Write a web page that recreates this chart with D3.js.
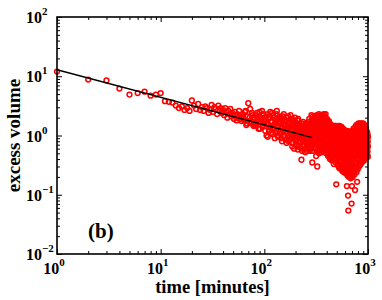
<!DOCTYPE html>
<html>
<head>
<meta charset="utf-8">
<script src="https://cdn.jsdelivr.net/npm/d3@7"></script>
<style>
  body { margin: 0; background: #fff; }
  text { font-family: "Liberation Serif", "Times New Roman", serif; font-weight: bold; fill: #000; }
</style>
</head>
<body>
<div class="chart"></div>
<script>
// excess volume, minutes 1..60 (one per minute)
const earlyVol = [
  12.0, 8.8, 8.5, 6.2, 4.9, 5.2, 5.5, 4.7, 4.9, 5.2,
  3.8, 3.7, 3.6, 3.2, 2.9, 3.1, 2.7, 2.9, 2.6, 3.9,
  3.2, 2.8, 3.4, 2.7, 3.0, 2.6, 3.1, 2.9, 2.4, 2.7,
  3.3, 2.5, 3.0, 2.8, 2.3, 3.2, 2.6, 2.9, 2.4, 2.7,
  2.2, 2.9, 2.5, 2.0, 2.6, 2.3, 2.8, 2.1, 2.4, 2.2,
  1.9, 2.5, 2.2, 1.8, 2.3, 2.0, 2.6, 1.9, 2.1, 1.75
];
// minutes 62..300, even minutes
const midVol = [
  2.3, 1.8, 2.6, 1.6, 3.5, 2.0, 1.7, 2.4, 1.9, 1.5,
  2.2, 1.6, 1.9, 1.3, 2.5, 1.7, 2.0, 1.4, 2.3, 1.8,
  1.2, 2.1, 1.6, 0.95, 1.9, 1.4, 2.5, 1.1, 1.7, 1.3,
  2.2, 1.5, 0.9, 1.8, 1.2, 2.6, 1.4, 1.0, 1.9, 1.6,
  1.1, 2.0, 1.4, 0.8, 1.7, 1.2, 2.3, 0.95, 1.5, 1.3,
  1.8, 0.75, 1.3, 1.0, 2.1, 1.4, 0.85, 1.6, 1.1, 1.9,
  0.9, 1.5, 0.65, 1.2, 1.8, 1.0, 0.6, 1.4, 2.0, 0.8,
  1.3, 0.7, 1.6, 1.1, 0.58, 1.9, 0.9, 1.2, 0.75, 1.5,
  1.0, 0.62, 1.4, 0.39, 1.6, 0.55, 1.1, 0.78, 1.3, 0.95,
  0.68, 1.5, 1.05, 0.52, 1.25, 0.88, 1.6, 0.72, 1.15, 0.8,
  1.3, 0.6, 1.0, 1.7, 0.78, 1.2, 0.55, 0.92, 1.45, 0.7,
  1.1, 0.66, 1.8, 0.85, 0.35, 1.3, 2.1, 0.75, 1.0, 1.6
];
// minutes 61..299, odd minutes
const midVolOdd = [
  2.0, 1.9, 2.5, 1.5, 2.1, 1.7, 2.8, 1.6, 2.2, 1.45,
  2.0, 1.5, 2.4, 1.7, 2.1, 1.3, 1.9, 2.6, 1.5, 1.6,
  2.0, 1.8, 1.0, 2.3, 1.5, 1.2, 2.0, 1.35, 1.75, 2.4,
  1.05, 1.3, 2.0, 1.6, 1.1, 2.3, 1.5, 0.95, 1.7, 1.25,
  2.1, 1.6, 0.9, 1.9, 1.3, 2.1, 1.0, 1.5, 1.8, 1.15,
  0.85, 1.4, 2.0, 1.1, 1.6, 0.8, 1.25, 1.7, 0.95, 2.2,
  1.3, 1.6, 1.1, 1.9, 0.75, 1.3, 1.5, 0.9, 1.7, 1.15,
  1.25, 0.85, 1.4, 1.0, 1.8, 1.25, 0.65, 1.1, 1.55, 0.95,
  1.2, 1.5, 0.8, 1.2, 0.6, 1.05, 1.45, 0.9, 1.7, 0.7,
  1.15, 1.2, 0.85, 0.6, 1.4, 1.0, 0.75, 1.3, 0.55, 1.1,
  0.95, 0.8, 1.5, 0.65, 1.15, 1.9, 0.9, 1.35, 0.6, 1.05,
  1.6, 0.95, 2.2, 0.7, 1.25, 0.55, 1.5, 0.9, 1.9, 1.15
];
// minutes 302..1000, even minutes
const lateVol = [
  1.4, 0.8, 2.0, 1.1, 0.6, 1.7, 0.95, 0.45, 1.25, 2.2,
  0.7, 0.30, 1.5, 0.9, 1.9, 0.55, 1.2, 2.3, 0.8, 1.05,
  1.6, 0.65, 1.3, 2.1, 0.85, 1.0, 0.52, 1.8, 1.15, 0.75,
  2.2, 1.4, 0.6, 1.0, 1.9, 0.8, 2.3, 1.2, 0.55, 1.6,
  0.9, 2.0, 1.3, 0.7, 2.3, 1.1, 0.5, 1.7, 0.85, 1.45,
  1.9, 0.6, 1.2, 0.8, 1.6, 0.45, 1.0, 1.35, 0.7, 1.75,
  0.55, 1.3, 0.9, 1.6, 0.4, 1.05, 0.7, 1.45, 0.85, 0.5,
  1.2, 0.65, 1.5, 0.38, 0.95, 0.75, 1.35, 0.5, 1.1, 0.8,
  0.6, 1.4, 0.85, 0.33, 1.1, 0.7, 1.3, 0.45, 0.95, 1.45,
  0.75, 1.2, 0.4, 0.9, 1.45, 0.55, 0.15, 1.05, 0.65, 1.3,
  0.5, 0.95, 1.4, 0.32, 0.7, 1.15, 0.6, 1.45, 0.85, 0.3,
  1.1, 0.45, 0.8, 1.4, 0.28, 0.65, 1.25, 0.9, 0.38, 1.0,
  0.7, 1.3, 0.35, 0.55, 1.05, 0.27, 0.85, 1.4, 0.6, 0.42,
  1.2, 0.5, 0.75, 0.25, 0.95, 1.3, 0.4, 0.65, 1.1, 0.3,
  0.55, 0.85, 0.24, 1.25, 0.45, 0.7, 1.0, 0.3, 0.6, 1.15,
  0.38, 0.9, 0.6, 1.2, 0.23, 0.5, 0.8, 1.05, 0.33, 0.7,
  0.95, 0.45, 0.14, 0.65, 1.15, 0.28, 0.8, 0.21, 1.0, 0.55,
  0.097, 0.7, 0.054, 0.4, 1.1, 0.6, 0.25, 0.9, 0.2, 0.5,
  0.75, 0.3, 1.05, 0.45, 0.85, 0.22, 0.6, 1.15, 0.35, 0.19,
  0.55, 0.95, 0.26, 0.7, 0.4, 0.21, 0.071, 0.8, 1.1, 0.14,
  0.32, 0.65, 1.2, 0.45, 0.2, 0.9, 0.55, 0.28, 1.0, 0.38,
  0.75, 1.3, 0.24, 0.6, 0.42, 1.05, 0.3, 0.85, 0.5, 0.22,
  1.2, 0.35, 0.7, 0.95, 0.12, 0.55, 1.4, 0.26, 0.8, 0.45,
  0.62, 0.28, 1.1, 0.4, 1.5, 0.75, 0.24, 0.9, 0.5, 1.25,
  0.34, 0.85, 0.165, 0.6, 1.3, 0.45, 1.0, 0.27, 0.7, 1.55,
  0.5, 0.95, 0.32, 1.2, 0.65, 1.6, 0.4, 0.8, 1.05, 0.3,
  1.4, 0.55, 0.75, 0.35, 1.1, 0.9, 0.45, 1.6, 0.6, 0.32,
  0.85, 1.25, 0.4, 0.7, 1.5, 0.33, 0.95, 0.55, 1.15, 0.65,
  0.36, 1.0, 0.6, 1.6, 0.45, 0.8, 1.3, 0.38, 0.7, 1.1,
  0.5, 1.45, 0.85, 0.36, 0.65, 1.2, 0.42, 0.95, 1.6, 0.58,
  0.75, 0.4, 1.05, 1.35, 0.55, 0.9, 0.38, 1.5, 0.68, 1.0,
  0.45, 1.25, 0.8, 0.6, 1.5, 0.4, 0.95, 0.7, 1.15, 0.52,
  1.35, 0.62, 0.42, 0.88, 1.1, 0.5, 0.75, 1.3, 0.45, 0.95,
  0.58, 1.2, 0.8, 0.44, 1.0, 0.68, 0.5, 1.15, 0.85, 0.62,
  0.9, 0.48, 1.1, 0.7, 0.55, 1.0, 0.8, 0.44, 0.65, 0.95
];
// minutes 301..699, odd minutes
const lateVolOdd = [
  1.0, 1.8, 0.7, 1.3, 2.1, 0.85, 1.5, 0.6, 1.15, 1.9,
  1.2, 0.55, 2.0, 0.9, 1.4, 0.75, 1.7, 1.05, 0.5, 1.35,
  0.95, 1.9, 0.7, 1.45, 1.1, 2.2, 0.6, 1.25, 0.85, 1.6,
  1.3, 0.75, 1.7, 1.0, 2.0, 0.65, 1.5, 0.9, 2.1, 1.15,
  1.6, 0.75, 2.1, 1.05, 1.4, 0.6, 1.85, 0.95, 1.25, 0.7,
  1.1, 1.5, 0.65, 1.3, 0.5, 1.7, 0.85, 1.0, 0.55, 1.4,
  0.8, 1.2, 0.45, 1.5, 0.95, 0.6, 1.3, 0.75, 1.1, 0.42,
  0.9, 1.4, 0.55, 1.0, 0.42, 1.25, 0.7, 0.85, 1.45, 0.6,
  1.0, 0.5, 1.25, 0.75, 0.4, 1.35, 0.9, 0.55, 1.15, 0.8,
  0.45, 1.0, 0.7, 1.3, 0.35, 0.85, 1.2, 0.6, 0.95, 0.5,
  1.2, 0.7, 0.4, 1.0, 1.35, 0.55, 0.85, 0.33, 1.1, 0.65,
  0.8, 1.3, 0.5, 0.35, 1.0, 0.7, 1.45, 0.42, 0.6, 1.15,
  0.9, 0.45, 1.2, 0.3, 0.75, 1.0, 0.55, 1.35, 0.38, 0.65,
  0.85, 0.3, 1.1, 0.6, 0.45, 1.25, 0.7, 0.27, 0.95, 0.5,
  0.75, 1.05, 0.35, 0.6, 1.2, 0.28, 0.85, 0.48, 0.95, 0.4,
  1.1, 0.55, 0.26, 0.75, 0.95, 0.42, 1.15, 0.3, 0.65, 0.85,
  0.5, 1.05, 0.32, 0.7, 0.24, 0.9, 0.6, 1.2, 0.4, 0.75,
  0.3, 0.85, 0.55, 1.1, 0.22, 0.7, 0.95, 0.4, 0.6, 1.0,
  0.45, 0.9, 0.25, 0.65, 1.1, 0.35, 0.8, 0.5, 0.21, 0.7,
  1.0, 0.4, 0.6, 0.85, 0.28, 1.15, 0.5, 0.75, 0.33, 0.6
];

// power-law fit line (end points)
const fitMinutes = [1, 290];
const fitVol = [12.9, 0.92];

// tick labels are 10^exponent
const xExponents = [0, 1, 2, 3];
const yExponents = [-2, -1, 0, 1, 2];

const data = [];
earlyVol.forEach((v, i) => data.push({t: i + 1, v: v}));
midVolOdd.forEach((v, i) => data.push({t: 61 + 2 * i, v: v}));
midVol.forEach((v, i) => data.push({t: 62 + 2 * i, v: v}));
lateVolOdd.forEach((v, i) => data.push({t: 301 + 2 * i, v: v}));
lateVol.forEach((v, i) => data.push({t: 302 + 2 * i, v: v}));

let margin = {top: 17, right: 14, left: 57, bottom: 46};
let outWidth = 382, outHeight = 300;
let width = outWidth - margin.left - margin.right,
    height = outHeight - margin.top - margin.bottom;

const svg = d3.select(".chart").append("svg")
    .attr("width", outWidth)
    .attr("height", outHeight);

const g = svg.append("g")
    .attr("transform", `translate(${margin.left}, ${margin.top})`);

let xScale = d3.scaleLog().domain([1, 1000]).range([0, width]);
let yScale = d3.scaleLog().domain([0.01, 100]).range([height, 0]);

const xMajor = xExponents.map(e => Math.pow(10, e));
const yMajor = yExponents.map(e => Math.pow(10, e));
const xMinor = xScale.ticks().filter(d => !xMajor.some(m => Math.abs(m - d) < 1e-9 * m));
const yMinor = yScale.ticks().filter(d => !yMajor.some(m => Math.abs(m - d) < 1e-9 * m));

// ticks point inward on all four sides
function ticks(axis, values, size, transform) {
  g.append("g")
    .attr("transform", transform)
    .call(axis.tickValues(values).tickSize(size).tickFormat(""))
    .call(a => a.select(".domain").remove())
    .selectAll("line").attr("stroke", "#000").attr("stroke-width", 1);
}
ticks(d3.axisBottom(xScale), xMajor, -5, `translate(0,${height})`);
ticks(d3.axisBottom(xScale), xMinor, -3, `translate(0,${height})`);
ticks(d3.axisTop(xScale), xMajor, -5, "translate(0,0)");
ticks(d3.axisTop(xScale), xMinor, -3, "translate(0,0)");
ticks(d3.axisLeft(yScale), yMajor, -5, "translate(0,0)");
ticks(d3.axisLeft(yScale), yMinor, -3, "translate(0,0)");
ticks(d3.axisRight(yScale), yMajor, -5, `translate(${width},0)`);
ticks(d3.axisRight(yScale), yMinor, -3, `translate(${width},0)`);

// data points
g.selectAll("circle")
  .data(data)
  .join("circle")
  .attr("cx", d => xScale(d.t))
  .attr("cy", d => yScale(d.v))
  .attr("r", 2.4)
  .attr("fill", "none")
  .attr("stroke", "#ff0000")
  .attr("stroke-width", 1.5);

// fit line
const line = d3.line()
  .x(d => xScale(d[0]))
  .y(d => yScale(d[1]));

g.append("path")
  .datum(fitMinutes.map((t, i) => [t, fitVol[i]]))
  .attr("d", line)
  .attr("fill", "none")
  .attr("stroke", "black")
  .attr("stroke-width", 1.5);

// frame
g.append("rect")
  .attr("width", width)
  .attr("height", height)
  .attr("fill", "none")
  .attr("stroke", "#000")
  .attr("stroke-width", 1.6);

function powerLabel(sel) {
  sel.append("tspan").attr("font-size", 16).text("10");
  sel.append("tspan").attr("font-size", 11).attr("dy", -8)
    .text(d => d < 0 ? "\u2212" + (-d) : d);
}

g.selectAll(".xlab")
  .data(xExponents)
  .join("text")
  .attr("class", "xlab")
  .attr("x", d => xScale(Math.pow(10, d)) - 3)
  .attr("y", height + 20)
  .attr("text-anchor", "middle")
  .call(powerLabel);

g.selectAll(".ylab")
  .data(yExponents)
  .join("text")
  .attr("class", "ylab")
  .attr("x", -31)
  .attr("y", d => yScale(Math.pow(10, d)) + 6)
  .attr("text-anchor", "start")
  .call(powerLabel);

g.append("text")
  .attr("x", width / 2)
  .attr("y", height + 39)
  .attr("text-anchor", "middle")
  .attr("font-size", 18.5)
  .text("time [minutes]");

g.append("text")
  .attr("transform", `translate(${20 - margin.left},${height / 2}) rotate(-90)`)
  .attr("text-anchor", "middle")
  .attr("font-size", 19)
  .text("excess volume");

g.append("text")
  .attr("x", 88 - margin.left)
  .attr("y", 238 - margin.top)
  .attr("font-size", 21)
  .text("(b)");
</script>
</body>
</html>
